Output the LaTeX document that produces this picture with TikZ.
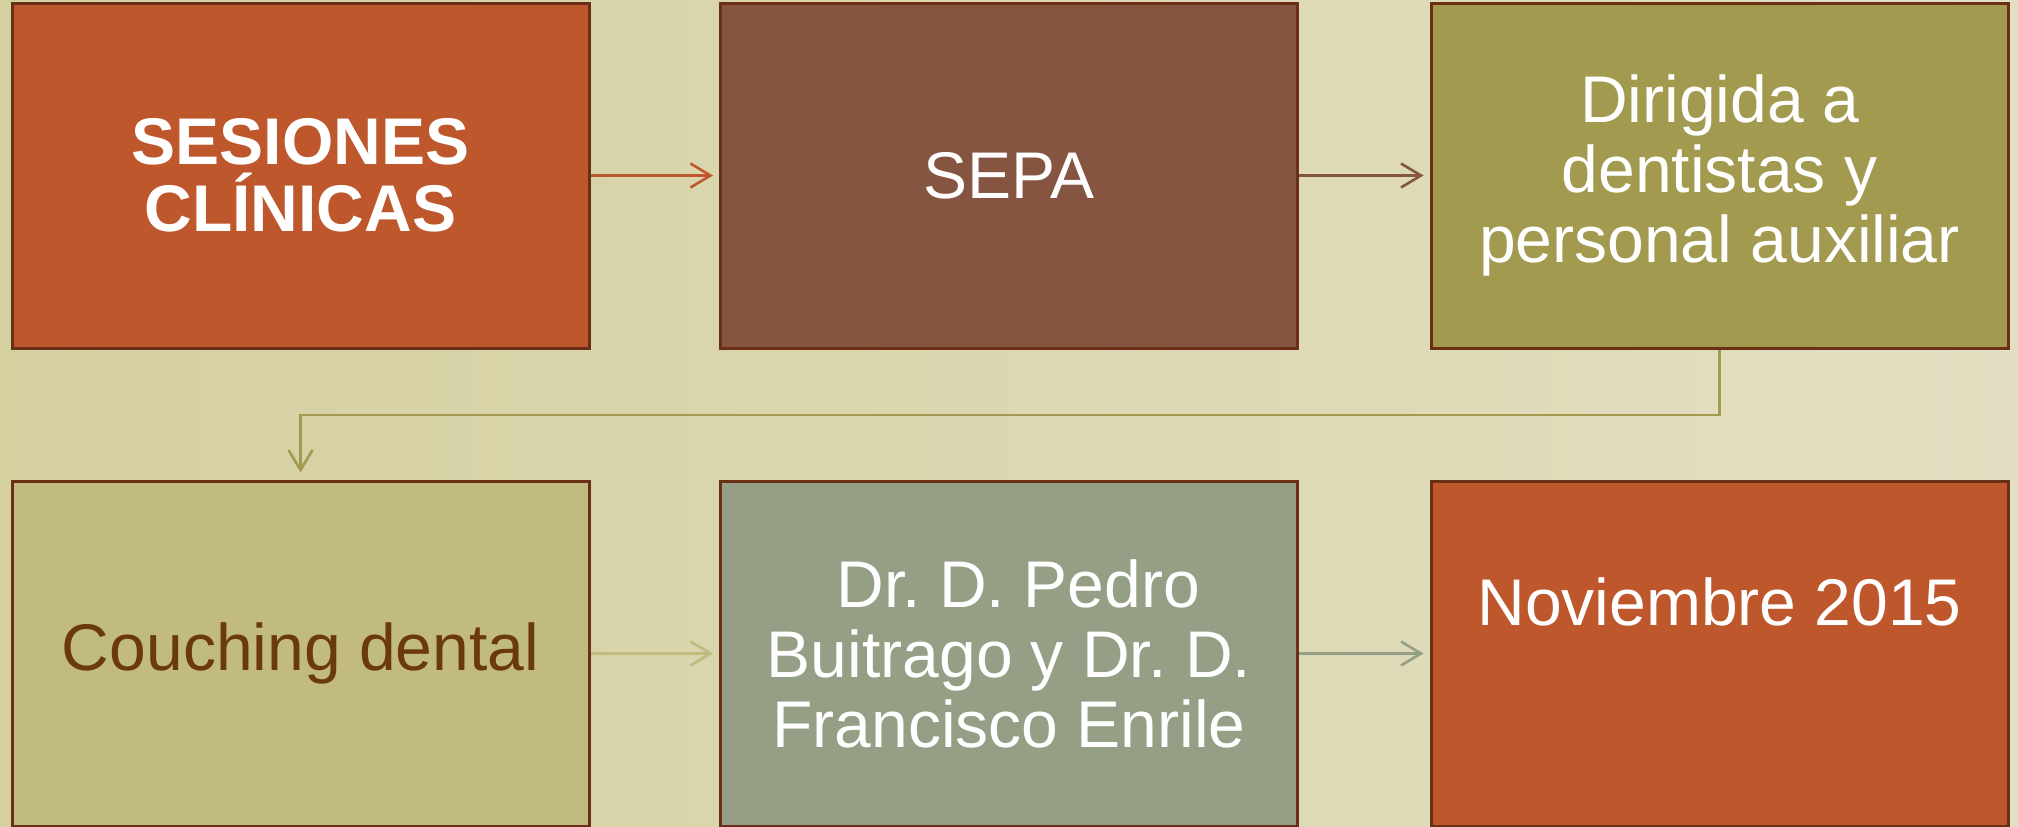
\documentclass[tikz,border=0pt]{standalone}
\usepackage{fontspec}
\setmainfont{Liberation Sans}
\usetikzlibrary{arrows.meta}
\definecolor{bgL}{RGB}{212,208,160}
\definecolor{bgR}{RGB}{227,223,194}
\definecolor{rust}{RGB}{190,88,44}
\definecolor{brownbox}{RGB}{133,85,65}
\definecolor{olive}{RGB}{162,154,78}
\definecolor{khaki}{RGB}{193,187,127}
\definecolor{sage}{RGB}{148,159,134}
\definecolor{edge}{RGB}{106,48,21}
\definecolor{darktext}{RGB}{107,58,10}
\frenchspacing
\tikzset{
  box/.style={draw=edge, line width=1.5pt, minimum width=288.5pt, minimum height=172.5pt, inner sep=0pt, align=center, text=white, font=\fontsize{33}{35}\selectfont},
  conn/.style={line width=1.3pt, -{Straight Barb[length=10pt,width=12pt,line width=1.3pt]}}
}
\begin{document}
\begin{tikzpicture}[x=0.5pt,y=-0.5pt]
\useasboundingbox (0,0) rectangle (2018,826);
\shade[left color=bgL, right color=bgR] (0,0) rectangle (2018,826);
\begin{scope}
\clip (0,0) rectangle (2018,826);
\node[box, fill=rust, font=\fontsize{33}{33.5}\selectfont\bfseries] (b1) at (300.5,175.5) {SESIONES\\CLÍNICAS};
\node[box, fill=brownbox] (b2) at (1009,175.5) {SEPA};
\node[box, fill=olive] (b3) at (1719.5,175.5) {Dirigida a\\dentistas y\\personal auxiliar};
\node[box, fill=khaki, text=darktext] (b4) at (300.5,653.5) {Couching dental};
\node[box, fill=sage] (b5) at (1009,653.5) {\hspace*{0.28em}Dr. D. Pedro\\Buitrago y Dr. D.\\Francisco Enrile};
\node[box, fill=rust] (b6) at (1719.5,653.5) {};
\node[text=white, font=\fontsize{33}{35}\selectfont, anchor=center] (t6) at (1719.5,602) {Noviembre 2015};
\end{scope}
\coordinate (k1) at (1719.5,415);
\coordinate (k2) at (300.5,415);
\draw[conn, rust] (b1.east) -- ([xshift=-3pt]b2.west);
\draw[conn, brownbox] (b2.east) -- ([xshift=-3pt]b3.west);
\draw[conn, olive] (b3.south) -- (k1) -- (k2) -- ([yshift=3.5pt]b4.north);
\draw[conn, khaki] (b4.east) -- ([xshift=-3pt]b5.west);
\draw[conn, sage] (b5.east) -- ([xshift=-3pt]b6.west);
\end{tikzpicture}
\end{document}
